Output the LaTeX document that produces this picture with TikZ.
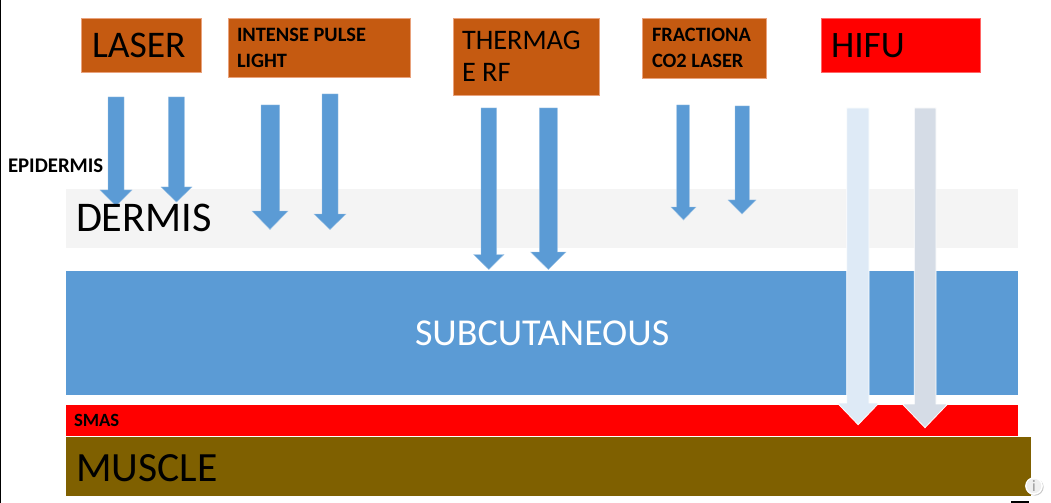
\documentclass[tikz,border=0pt]{standalone}
\usepackage{fontspec}
\setmainfont{Carlito}
\definecolor{boxorange}{HTML}{C55A11}
\definecolor{boxedge}{HTML}{E9A27C}
\definecolor{skyblue}{HTML}{5B9BD5}
\definecolor{skyedge}{HTML}{9DC3E6}
\definecolor{dermisgrey}{HTML}{F4F4F4}
\definecolor{musclebrown}{HTML}{7F6000}
\definecolor{hifuone}{HTML}{DEEAF6}
\definecolor{hifutwo}{HTML}{D5DCE6}
\newcommand{\pxfont}[1]{\fontsize{#1}{#1}\selectfont}
% x1 x2 top headleft headright heady tipy style
\newcommand{\blockarrow}[8]{%
  \path[#8] (#1,#3) -- (#2,#3) -- (#2,#6) -- (#5,#6) -- ({(#4+#5)/2},#7) -- (#4,#6) -- (#1,#6) -- cycle;}
\newcommand{\layerbox}[6]{%
  \node[#6,minimum width=#3*0.75pt-#1*0.75pt,minimum height=#4*0.75pt-#2*0.75pt] (#5) at ({(#1+#3)/2},{(#2+#4)/2}) {};}
\tikzset{
  layer/.style={inner sep=0pt,outer sep=0pt,draw=none},
  orangebox/.style={layer,fill=boxorange,draw=boxedge,line width=0.4pt},
  redbox/.style={layer,fill=red,draw=red!60!white,line width=0.4pt},
  bluearrow/.style={fill=skyblue,draw=skyedge,line width=0.3pt},
  hifuarrowa/.style={fill=hifuone,draw=white,line width=0.6pt},
  hifuarrowb/.style={fill=hifutwo,draw=white,line width=0.6pt},
  lbl/.style={anchor=base west,inner sep=0pt,outer sep=0pt,text=black},
}
\begin{document}
\begin{tikzpicture}[x=0.75pt,y=-0.75pt]
\useasboundingbox (0,0) rectangle (1051,503);
\fill[white] (0,0) rectangle (1051,503);
\fill[black] (0,0) rectangle (1.2,503);
\fill[black] (1011,501) rectangle (1029,503);
% layers
\layerbox{66}{189}{1018}{247.5}{dermis}{layer,fill=dermisgrey}
\layerbox{66}{270.5}{1018}{395}{subcut}{layer,fill=skyblue}
\layerbox{66}{405}{1018}{436}{smas}{layer,fill=red}
\layerbox{66}{437}{1031}{496}{muscle}{layer,fill=musclebrown}
% source boxes
\layerbox{81}{18}{201}{72}{laser}{orangebox}
\layerbox{228}{18}{410}{77}{ipl}{orangebox}
\layerbox{453}{18}{599}{95}{thermage}{orangebox}
\layerbox{642}{18}{766.5}{78}{fractional}{orangebox}
\layerbox{821}{18}{980}{72}{hifu}{redbox}
% block arrows
\blockarrow{108}{124}{97}{100}{132}{190}{206}{bluearrow}
\blockarrow{168.3}{184.3}{97}{161}{192}{187}{202}{bluearrow}
\blockarrow{261}{279.5}{105}{252}{288}{211}{229.5}{bluearrow}
\blockarrow{322}{338}{94}{314}{346}{214}{229.5}{bluearrow}
\blockarrow{481}{496.6}{108}{473.6}{504}{254.5}{269.5}{bluearrow}
\blockarrow{539.4}{557.4}{108}{530.6}{566}{252}{269.5}{bluearrow}
\blockarrow{676.7}{689.4}{105}{671}{696}{207}{220}{bluearrow}
\blockarrow{735}{749.4}{106}{728}{756}{200}{214}{bluearrow}
\blockarrow{846.7}{869}{108}{837.3}{879}{403}{424.7}{hifuarrowa}
\blockarrow{914.3}{936}{108}{902.3}{947.7}{404}{427.7}{hifuarrowb}
% labels
\node[lbl] (tlaser) at (92,58) {\pxfont{28.2}LASER};
\node[lbl] (tipla) at (237,41.5) {\pxfont{15.3}\bfseries INTENSE PULSE};
\node[lbl] (tiplb) at (237,67.5) {\pxfont{15.3}\bfseries LIGHT};
\node[lbl] (ttha) at (462,50) {\pxfont{21.2}THERMAG};
\node[lbl] (tthb) at (462,82) {\pxfont{21.2}E RF};
\node[lbl] (tfra) at (652,41.5) {\pxfont{15.3}\bfseries FRACTIONA};
\node[lbl] (tfrb) at (652,67.5) {\pxfont{15.3}\bfseries CO2 LASER};
\node[lbl] (thifu) at (831,58) {\pxfont{28}HIFU};
\node[lbl] (tepi) at (8,172.5) {\pxfont{15.6}\bfseries EPIDERMIS};
\node[lbl] (tder) at (76,232) {\pxfont{31.7}DERMIS};
\node[lbl,text=white] (tsub) at (415,345) {\pxfont{28.5}SUBCUTANEOUS};
\node[lbl] (tsmas) at (74,426) {\pxfont{14}\bfseries SMAS};
\node[lbl] (tmus) at (76,481) {\pxfont{31.2}MUSCLE};
% info mark
\fill[black!22] (1035,487) circle[radius=8.6];
\node[circle,draw=white,line width=1.1pt,fill=white,fill opacity=0.72,draw opacity=1,text opacity=1,minimum size=12.2pt,inner sep=0pt] (info) at (1034,486) {\pxfont{12}\textcolor{black!40}{i}};
\end{tikzpicture}
\end{document}
